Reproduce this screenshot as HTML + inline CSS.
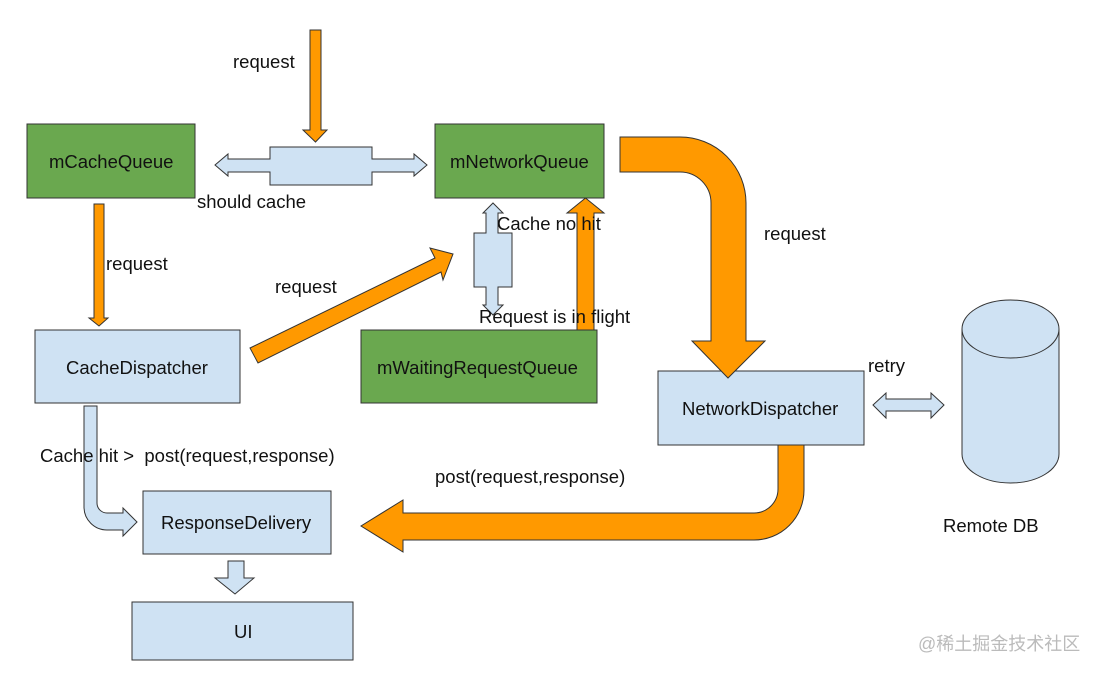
<!DOCTYPE html>
<html><head><meta charset="utf-8"><style>
body{margin:0;background:#fff;}
svg{display:block;font-family:"Liberation Sans",Arial,sans-serif;}
</style></head><body>
<svg width="1099" height="675" viewBox="0 0 1099 675" xmlns="http://www.w3.org/2000/svg">
<g stroke="#333" stroke-width="1">
<rect x="27" y="124" width="168" height="74" fill="#6aa84f"/>
<rect x="435" y="124" width="169" height="74" fill="#6aa84f"/>
<rect x="35" y="330" width="205" height="73" fill="#cfe2f3"/>
<rect x="361" y="330" width="236" height="73" fill="#6aa84f"/>
<rect x="658" y="371" width="206" height="74" fill="#cfe2f3"/>
<rect x="143" y="491" width="188" height="63" fill="#cfe2f3"/>
<rect x="132" y="602" width="221" height="58" fill="#cfe2f3"/>
<path d="M962 329 L962 454 A48.5 29 0 0 0 1059 454 L1059 329" fill="#cfe2f3"/>
<ellipse cx="1010.5" cy="329" rx="48.5" ry="29" fill="#cfe2f3"/>
<polygon points="310,30 321,30 321,130 327,130 315.5,142 303,130 310,130" fill="#ff9900"/>
<polygon points="94,204 104,204 104,318 108,318 99,326 89,318 94,318" fill="#ff9900"/>
<polygon points="215,165 228,154 228,159 270,159 270,147 372,147 372,159 414,159 414,154 427,165 414,176 414,172 372,172 372,185 270,185 270,172 228,172 228,176" fill="#cfe2f3"/>
<polygon points="493,203 503,213 498,213 498,233 512,233 512,287 498,287 498,305 503,305 493,315 483,305 486,305 486,287 474,287 474,233 486,233 486,213 483,213" fill="#cfe2f3"/>
<polygon points="577,330 577,213 567,213 585.5,198 604,213 594,213 594,330" fill="#ff9900"/>
<polygon points="250,348 435,258 430,248 453,254 443,280 441,272 258,363" fill="#ff9900"/>
<path d="M620 137 L680 137 A66 66 0 0 1 746 203 L746 341 L765 341 L728 378 L692 341 L711 341 L711 203 A31 31 0 0 0 680 172 L620 172 Z" fill="#ff9900"/>
<path d="M778 445 L804 445 L804 490 A50 50 0 0 1 754 540 L403 540 L403 552 L361 526 L403 500 L403 513 L754 513 A24 24 0 0 0 778 489 Z" fill="#ff9900"/>
<path d="M84 406 L97 406 L97 503 A10 10 0 0 0 107 513 L123 513 L123 508 L137 522 L123 536 L123 530 L107 530 A23 23 0 0 1 84 507 Z" fill="#cfe2f3"/>
<polygon points="228,561 244,561 244,578 254,578 235,594 215,578 228,578" fill="#cfe2f3"/>
<polygon points="873,405 886,393 886,399 931,399 931,393 944,405 931,418 931,411 886,411 886,418" fill="#cfe2f3"/>
</g>
<g font-size="18.5" fill="#111" style="white-space:pre">
<text x="233" y="68">request</text>
<text x="49" y="168">mCacheQueue</text>
<text x="450" y="168">mNetworkQueue</text>
<text x="197" y="208">should cache</text>
<text x="497" y="230">Cache no hit</text>
<text x="106" y="270">request</text>
<text x="275" y="293">request</text>
<text x="764" y="240">request</text>
<text x="479" y="323">Request is in flight</text>
<text x="66" y="374">CacheDispatcher</text>
<text x="377" y="374">mWaitingRequestQueue</text>
<text x="868" y="372">retry</text>
<text x="682" y="415">NetworkDispatcher</text>
<text x="40" y="462" xml:space="preserve">Cache hit &gt;  post(request,response)</text>
<text x="435" y="483">post(request,response)</text>
<text x="161" y="529">ResponseDelivery</text>
<text x="943" y="532">Remote DB</text>
<text x="234" y="638">UI</text>
</g>
<text x="918" y="650" font-size="18" fill="#bbb" font-family="'Liberation Sans','Noto Sans CJK SC',sans-serif">@稀土掘金技术社区</text>
</svg>
</body></html>
